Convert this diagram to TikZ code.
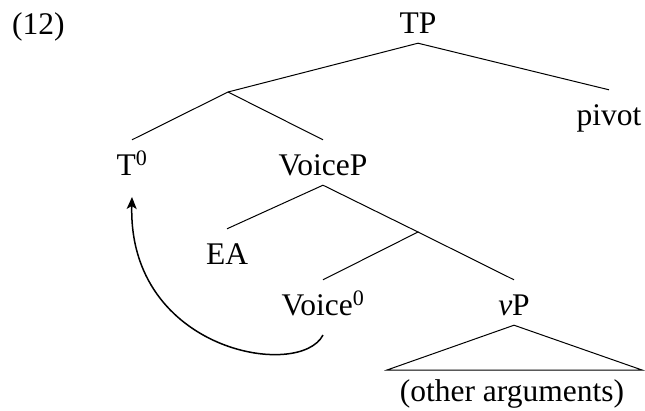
\documentclass[tikz,border=0pt]{standalone}
\usepackage{fontspec}
\setmainfont{Liberation Serif}
\usetikzlibrary{arrows.meta}
\begin{document}
\begin{tikzpicture}[x=1pt,y=-1pt,
  lab/.style={anchor=base,inner xsep=0pt,inner ysep=2pt,text height=33pt,text depth=8pt,
    font=\fontsize{31.5}{36}\selectfont},
  br/.style={line width=1pt},
  mv/.style={line width=1.5pt,-{Stealth[length=12pt,width=10pt,inset=3pt]}}]
\useasboundingbox (0,0) rectangle (645,410);
\node[anchor=base west,inner sep=0pt,font=\fontsize{31.5}{36}\selectfont] (ex) at (12,34) {(12)};
\node[lab] (TP) at (418,33) {TP};
\coordinate (j1) at (228,92);
\node[lab] (pivot) at (609,125) {pivot};
\node[lab] (T0) at (132,175) {T\textsuperscript{0}};
\node[lab] (VoiceP) at (323,175) {VoiceP};
\node[lab] (EA) at (227,264) {EA};
\coordinate (j2) at (418,232);
\node[lab] (Voice0) at (323,315) {Voice\textsuperscript{0}};
\node[lab] (vP) at (514,315) {\textit{v}P};
\coordinate (bl) at (387,370);
\coordinate (brr) at (642,370);
\node[lab,text height=22pt,inner ysep=0pt] (oth) at (512,401) {(other arguments)};
\coordinate (a0) at (323,335);
\coordinate (a1) at (132,197);
\draw[br] (TP.south) -- (j1) -- (T0.north);
\draw[br] (j1) -- (VoiceP.north);
\draw[br] (TP.south) -- (pivot.north);
\draw[br] (VoiceP.south) -- (EA.north);
\draw[br] (VoiceP.south) -- (j2) -- (Voice0.north);
\draw[br] (j2) -- (vP.north);
\draw[br] (vP.south) -- (bl) -- (brr) -- cycle;
\draw[mv] (a0) .. controls (300,380) and (128,352) .. (a1);
\end{tikzpicture}
\end{document}
